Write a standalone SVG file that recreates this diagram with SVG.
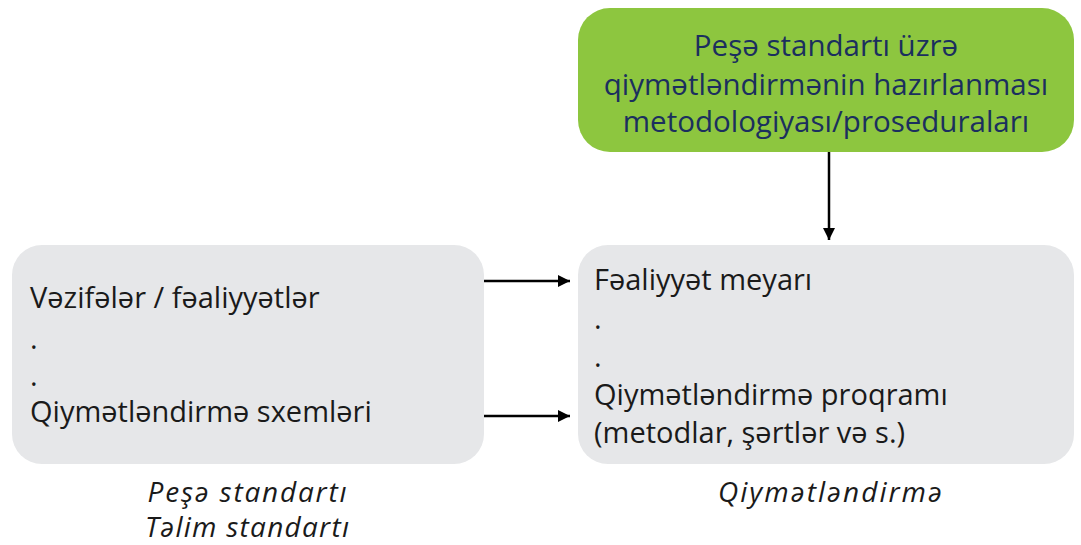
<svg xmlns="http://www.w3.org/2000/svg" width="1081" height="545" viewBox="0 0 1081 545">
<style>
.box{fill:#e6e7e9}
.green{fill:#8dc63f}
.t{font-family:"Open Sans","Noto Sans",sans-serif;font-size:29px;fill:#1a1a1a}
.g{font-family:"Open Sans","Noto Sans",sans-serif;font-size:29.5px;fill:#1b2f5e;text-anchor:middle}
.i{font-family:"Open Sans","Noto Sans",sans-serif;font-size:28px;font-style:italic;fill:#1a1a1a;text-anchor:middle}
.c{stroke:#000;stroke-width:2.5;fill:none}
</style>
<defs>
<marker id="ah" viewBox="0 0 10 10" refX="10" refY="5" markerWidth="5" markerHeight="5" markerUnits="strokeWidth" orient="auto"><path d="M0,0L10,5L0,10z" fill="#000"/></marker>
</defs>
<g id="node-method">
<rect class="green" x="578" y="8" width="496" height="144" rx="32"/>
<text class="g" x="826" y="56">Peşə standartı üzrə</text>
<text class="g" x="826" y="95">qiymətləndirmənin hazırlanması</text>
<text class="g" x="826" y="132">metodologiyası/proseduraları</text>
</g>
<g id="node-standard">
<rect class="box" x="12" y="245" width="472" height="219" rx="30"/>
<text class="t" x="30" y="308">Vəzifələr / fəaliyyətlər</text>
<text class="t" x="30" y="349">.</text>
<text class="t" x="30" y="386">.</text>
<text class="t" x="30" y="422">Qiymətləndirmə sxemləri</text>
</g>
<g id="node-assessment">
<rect class="box" x="578" y="245" width="496" height="219" rx="30"/>
<text class="t" x="594" y="290">Fəaliyyət meyarı</text>
<text class="t" x="594" y="329">.</text>
<text class="t" x="594" y="367">.</text>
<text class="t" x="594" y="405">Qiymətləndirmə proqramı</text>
<text class="t" x="594" y="443">(metodlar, şərtlər və s.)</text>
</g>
<g id="label-left">
<text class="i" x="247" y="502" textLength="199" lengthAdjust="spacing">Peşə standartı</text>
<text class="i" x="247" y="537" textLength="204" lengthAdjust="spacing">Təlim standartı</text>
</g>
<g id="label-right">
<text class="i" x="830" y="502" textLength="224" lengthAdjust="spacing">Qiymətləndirmə</text>
</g>
<g id="connectors">
<line class="c" x1="829" y1="152" x2="829" y2="240" marker-end="url(#ah)"/>
<line class="c" x1="484" y1="281" x2="570" y2="281" marker-end="url(#ah)"/>
<line class="c" x1="484" y1="416" x2="570" y2="416" marker-end="url(#ah)"/>
</g>
</svg>
